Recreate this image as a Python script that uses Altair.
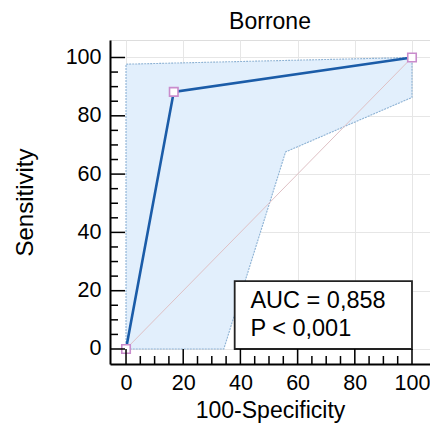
import altair as alt
import pandas as pd

# ROC curve points (100-Specificity, Sensitivity)
roc_x = [0, 16.7, 100]
roc_y = [0, 88.2, 100]

# Confidence band (area form)
band_x = [0, 34.2, 55.8, 100]
band_hi = [97.7, 98.4, 98.9, 100]
band_lo = [0, 0, 67.6, 86.3]

# Confidence band outline (polygon vertices)
poly_x = [0, 0, 100, 100, 55.8, 34.2, 0]
poly_y = [0, 97.7, 100, 86.3, 67.6, 0, 0]

# Reference diagonal
diag_x = [0, 100]
diag_y = [0, 100]

# Annotation box
box_x = [38.0]
box_x2 = [100]
box_y = [0]
box_y2 = [23.3]
txt_lines = ["AUC = 0,858", "P < 0,001"]
txt_x = [43.5, 43.5]
txt_y = [16.6, 7.0]

major_ticks = [0, 20, 40, 60, 80, 100]
minor_ticks = [v for v in range(0, 101, 5) if v not in major_ticks]

FONT = "Liberation Sans"
W, H = 320, 324
xs = alt.Scale(domain=[-5.6, 106.3], nice=False, zero=False)
ys = alt.Scale(domain=[-5.15, 106.0], nice=False, zero=False)

xaxis = alt.Axis(values=major_ticks, grid=True, gridColor="#e6e6e6", gridWidth=1,
                 ticks=False, domainColor="black", domainWidth=2,
                 labelFont=FONT, labelFontSize=21.5, labelColor="black", labelPadding=8,
                 titleFont=FONT, titleFontSize=23, titleFontWeight="normal",
                 titleColor="black", titlePadding=6, title="100-Specificity")
yaxis = alt.Axis(values=major_ticks, grid=True, gridColor="#e6e6e6", gridWidth=1,
                 ticks=False, domainColor="black", domainWidth=2,
                 labelFont=FONT, labelFontSize=21.5, labelColor="black", labelPadding=9,
                 titleFont=FONT, titleFontSize=24, titleFontWeight="normal",
                 titleColor="black", titlePadding=28, title="Sensitivity")

band_df = pd.DataFrame({"x": band_x, "hi": band_hi, "lo": band_lo})
band = alt.Chart(band_df).mark_area(color="#e2effc", opacity=1).encode(
    x=alt.X("x:Q", scale=xs, axis=xaxis),
    y=alt.Y("hi:Q", scale=ys, axis=yaxis),
    y2="lo:Q",
)

poly_df = pd.DataFrame({"x": poly_x, "y": poly_y, "o": list(range(len(poly_x)))})
outline = alt.Chart(poly_df).mark_line(color="#8db2d4", strokeWidth=1.1,
                                       strokeDash=[2, 1]).encode(
    x=alt.X("x:Q", scale=xs), y=alt.Y("y:Q", scale=ys), order="o:Q")

diag_df = pd.DataFrame({"x": diag_x, "y": diag_y})
diag = alt.Chart(diag_df).mark_line(color="#dfc1c5", strokeWidth=1).encode(
    x=alt.X("x:Q", scale=xs), y=alt.Y("y:Q", scale=ys))

roc_df = pd.DataFrame({"x": roc_x, "y": roc_y})
roc_line = alt.Chart(roc_df).mark_line(color="#1b5ca8", strokeWidth=2.6).encode(
    x=alt.X("x:Q", scale=xs), y=alt.Y("y:Q", scale=ys))
roc_pts = alt.Chart(roc_df).mark_point(shape="square", size=72, filled=True,
                                       fill="white", stroke="#c98ccc",
                                       strokeWidth=1.6, opacity=1).encode(
    x=alt.X("x:Q", scale=xs), y=alt.Y("y:Q", scale=ys))

box_df = pd.DataFrame({"x": box_x, "x2": box_x2, "y": box_y, "y2": box_y2})
box = alt.Chart(box_df).mark_rect(fill="white", stroke="#222222", strokeWidth=1.8).encode(
    x=alt.X("x:Q", scale=xs), x2="x2:Q", y=alt.Y("y:Q", scale=ys), y2="y2:Q")

txt_df = pd.DataFrame({"x": txt_x, "y": txt_y, "t": txt_lines})
txt = alt.Chart(txt_df).mark_text(align="left", baseline="middle", font=FONT,
                                  fontSize=23.5, color="black").encode(
    x=alt.X("x:Q", scale=xs), y=alt.Y("y:Q", scale=ys), text="t:N")

# Inward ticks
xmaj = alt.Chart(pd.DataFrame({"x": major_ticks})).mark_rule(color="black", strokeWidth=1.5).encode(
    x=alt.X("x:Q", scale=xs), y=alt.value(H), y2=alt.value(H - 15))
xmin = alt.Chart(pd.DataFrame({"x": minor_ticks})).mark_rule(color="black", strokeWidth=1.5).encode(
    x=alt.X("x:Q", scale=xs), y=alt.value(H), y2=alt.value(H - 8))
ymaj = alt.Chart(pd.DataFrame({"y": major_ticks})).mark_rule(color="black", strokeWidth=1.5).encode(
    y=alt.Y("y:Q", scale=ys), x=alt.value(0), x2=alt.value(15))
ymin = alt.Chart(pd.DataFrame({"y": minor_ticks})).mark_rule(color="black", strokeWidth=1.5).encode(
    y=alt.Y("y:Q", scale=ys), x=alt.value(0), x2=alt.value(8))

chart = alt.layer(band, outline, diag, roc_line, box, txt, roc_pts,
                  xmaj, xmin, ymaj, ymin).properties(
    width=W, height=H,
    title=alt.Title("Borrone", font=FONT, fontSize=23, fontWeight="normal",
                    color="black", offset=6),
    autosize=alt.AutoSizeParams(type="none"),
    padding={"left": 102, "top": 32, "right": 0, "bottom": 61},
).configure_view(stroke=None).configure(background="white")

chart.save("out.html", embed_options={"renderer": "svg", "actions": False})
